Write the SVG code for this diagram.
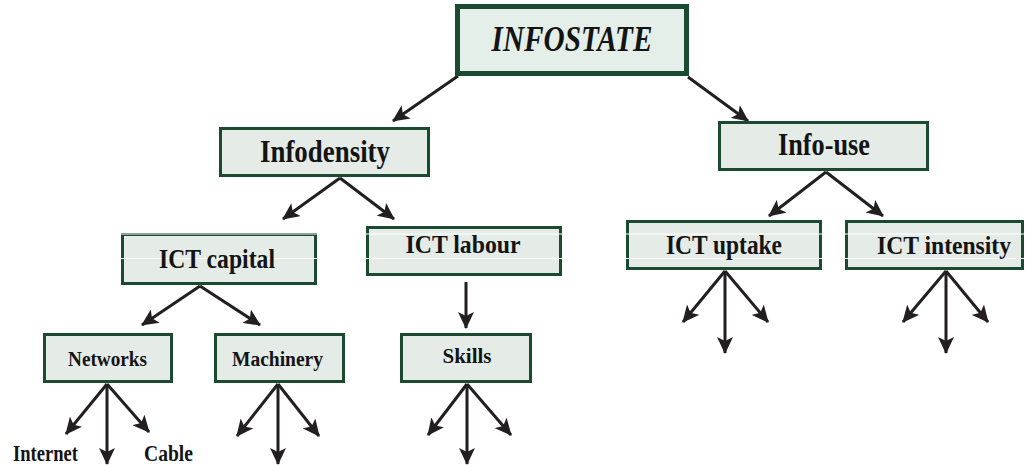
<svg xmlns="http://www.w3.org/2000/svg" width="1027" height="465" viewBox="0 0 1027 465">
<style>
.box{fill:#e5ece8;stroke:#1b4a30;stroke-width:3}
.top{fill:#e3efe8;stroke:#1b4a30;stroke-width:5}
.t{font-family:'Liberation Serif','DejaVu Serif',serif;font-weight:700;fill:#141414;text-anchor:middle}
.c{stroke:#231f20;stroke-width:3;fill:none;marker-end:url(#ah)}
.art{stroke:#ffffff;stroke-width:1}
</style>
<defs>
<marker id="ah" markerUnits="userSpaceOnUse" markerWidth="18" markerHeight="16" refX="16" refY="8" orient="auto">
<path d="M0,0 L17,8 L0,16 L4,8 z" fill="#231f20"/>
</marker>
</defs>
<g id="connectors">
<line class="c" x1="458" y1="76" x2="393" y2="121"/>
<line class="c" x1="688" y1="77" x2="748" y2="121"/>
<line class="c" x1="340" y1="178" x2="283" y2="219"/>
<line class="c" x1="340" y1="178" x2="394" y2="219"/>
<line class="c" x1="826" y1="172" x2="769" y2="216"/>
<line class="c" x1="826" y1="172" x2="883" y2="216"/>
<line class="c" x1="200" y1="286" x2="142" y2="325"/>
<line class="c" x1="200" y1="286" x2="260" y2="325"/>
<line class="c" x1="466" y1="282" x2="466" y2="328"/>
<line class="c" x1="107" y1="384" x2="66" y2="434"/>
<line class="c" x1="107" y1="384" x2="107" y2="464"/>
<line class="c" x1="107" y1="384" x2="149" y2="432"/>
<line class="c" x1="278" y1="384" x2="237" y2="436"/>
<line class="c" x1="278" y1="384" x2="278" y2="464"/>
<line class="c" x1="278" y1="384" x2="319" y2="436"/>
<line class="c" x1="467" y1="384" x2="428" y2="435"/>
<line class="c" x1="467" y1="384" x2="467" y2="464"/>
<line class="c" x1="467" y1="384" x2="511" y2="435"/>
<line class="c" x1="725" y1="271" x2="683" y2="322"/>
<line class="c" x1="725" y1="271" x2="725" y2="353"/>
<line class="c" x1="725" y1="271" x2="768" y2="322"/>
<line class="c" x1="946" y1="271" x2="903" y2="322"/>
<line class="c" x1="946" y1="271" x2="946" y2="353"/>
<line class="c" x1="946" y1="271" x2="988" y2="322"/>
</g>
<g id="infostate">
<rect class="top" x="457.5" y="6.5" width="229" height="67"/>
<text class="t" x="572" y="51" font-size="36" font-style="italic" textLength="161" lengthAdjust="spacingAndGlyphs">INFOSTATE</text>
</g>
<g id="infodensity">
<rect class="box" x="220.5" y="128.5" width="208" height="47"/>
<text class="t" x="325" y="162" font-size="32" textLength="130" lengthAdjust="spacingAndGlyphs">Infodensity</text>
</g>
<g id="infouse">
<rect class="box" x="719.5" y="122.5" width="208" height="47"/>
<text class="t" x="824" y="155" font-size="32" textLength="92" lengthAdjust="spacingAndGlyphs">Info-use</text>
</g>
<g id="ict-capital">
<rect class="box" x="122.5" y="234.5" width="193" height="49"/>
<line class="art" x1="121" y1="234" x2="317" y2="234"/>
<line class="art" x1="121" y1="258.5" x2="317" y2="258.5"/>
<text class="t" x="217" y="268" font-size="28" textLength="116" lengthAdjust="spacingAndGlyphs">ICT capital</text>
</g>
<g id="ict-labour">
<rect class="box" x="367.5" y="227.5" width="193" height="47"/>
<line class="art" x1="366" y1="234" x2="562" y2="234"/>
<line class="art" x1="366" y1="258.5" x2="562" y2="258.5"/>
<text class="t" x="463" y="253" font-size="26" textLength="115" lengthAdjust="spacingAndGlyphs">ICT labour</text>
</g>
<g id="ict-uptake">
<rect class="box" x="627.5" y="221.5" width="193" height="47"/>
<line class="art" x1="626" y1="234" x2="822" y2="234"/>
<line class="art" x1="626" y1="258.5" x2="822" y2="258.5"/>
<text class="t" x="724" y="254" font-size="27" textLength="116" lengthAdjust="spacingAndGlyphs">ICT uptake</text>
</g>
<g id="ict-intensity">
<rect class="box" x="846.5" y="221.5" width="176" height="47"/>
<line class="art" x1="845" y1="234" x2="1024" y2="234"/>
<line class="art" x1="845" y1="258.5" x2="1024" y2="258.5"/>
<text class="t" x="944" y="254" font-size="26" textLength="134" lengthAdjust="spacingAndGlyphs">ICT intensity</text>
</g>
<g id="networks">
<rect class="box" x="44.5" y="334.5" width="127" height="47"/>
<text class="t" x="107.5" y="366" font-size="20" textLength="79" lengthAdjust="spacingAndGlyphs">Networks</text>
</g>
<g id="machinery">
<rect class="box" x="215.5" y="334.5" width="128" height="47"/>
<text class="t" x="277.5" y="366" font-size="20" textLength="91" lengthAdjust="spacingAndGlyphs">Machinery</text>
</g>
<g id="skills">
<rect class="box" x="401.5" y="334.5" width="129" height="47"/>
<text class="t" x="467" y="363" font-size="20" textLength="49" lengthAdjust="spacingAndGlyphs">Skills</text>
</g>
<g id="leaf-labels">
<text class="t" x="45.5" y="461" font-size="23" textLength="65" lengthAdjust="spacingAndGlyphs">Internet</text>
<text class="t" x="168.5" y="461" font-size="23" textLength="49" lengthAdjust="spacingAndGlyphs">Cable</text>
</g>
</svg>
